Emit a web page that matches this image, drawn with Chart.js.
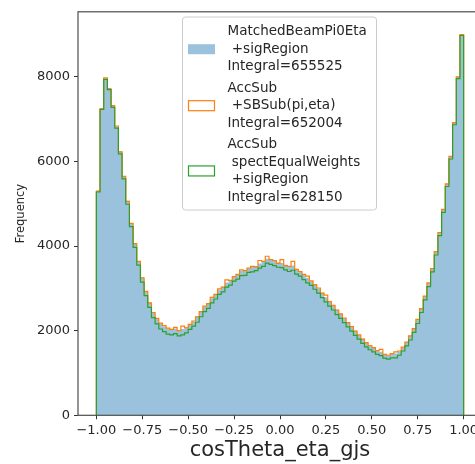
<!DOCTYPE html>
<html>
<head>
<meta charset="utf-8">
<script src="https://cdn.jsdelivr.net/npm/chart.js@4.4.0/dist/chart.umd.min.js"></script>
<style>
  html, body { margin: 0; padding: 0; background: #fff; overflow: hidden; }
  #wrap { position: relative; width: 484px; height: 464px; }
</style>
</head>
<body>
<div id="wrap"><canvas id="grafico"></canvas></div>
<script>
// histogram: 100 bins from -1 to 1
const binStart = -1.0;
const binWidth = 0.02;

const matchedCounts = [
  5310, 7260, 7960, 7740, 7330, 6830, 6250, 5640, 5070, 4530,
  4070, 3630, 3260, 2920, 2670, 2420, 2280, 2170, 2100, 2050,
  2020, 2050, 2010, 2040, 2080, 2140, 2220, 2340, 2440, 2570,
  2650, 2770, 2870, 2970, 3040, 3140, 3200, 3270, 3340, 3420,
  3430, 3470, 3510, 3530, 3590, 3650, 3700, 3690, 3670, 3610,
  3600, 3560, 3530, 3540, 3460, 3410, 3320, 3250, 3170, 3100,
  3000, 2900, 2790, 2700, 2600, 2500, 2400, 2300, 2200, 2100,
  2000, 1900, 1810, 1720, 1650, 1600, 1540, 1500, 1450, 1420,
  1450, 1460, 1510, 1600, 1730, 1880, 2060, 2270, 2520, 2820,
  3130, 3480, 3870, 4330, 4870, 5470, 6120, 6930, 8010, 9010
];

const sbSubCounts = [
  5300, 7250, 7980, 7720, 7320, 6840, 6230, 5650, 5060, 4540,
  4060, 3640, 3250, 2930, 2660, 2430, 2290, 2180, 2120, 2060,
  2030, 2080, 2000, 2110, 2070, 2150, 2230, 2330, 2450, 2580,
  2640, 2790, 2860, 2990, 3030, 3200, 3190, 3280, 3330, 3440,
  3420, 3480, 3520, 3510, 3660, 3640, 3760, 3680, 3660, 3590,
  3680, 3540, 3520, 3640, 3450, 3400, 3330, 3290, 3180, 3090,
  3010, 2890, 2840, 2690, 2600, 2490, 2400, 2300, 2190, 2100,
  1990, 1900, 1800, 1720, 1650, 1600, 1530, 1560, 1440, 1420,
  1460, 1500, 1520, 1610, 1730, 1880, 2050, 2270, 2520, 2820,
  3130, 3470, 3870, 4320, 4870, 5470, 6120, 6920, 8000, 9000
];

const equalWeightCounts = [
  5280, 7230, 7940, 7700, 7280, 6790, 6180, 5590, 4990, 4460,
  3970, 3550, 3150, 2830, 2550, 2310, 2160, 2040, 1980, 1920,
  1900, 1930, 1880, 1900, 1950, 2030, 2110, 2200, 2330, 2450,
  2530, 2660, 2750, 2860, 2920, 3030, 3080, 3170, 3220, 3300,
  3310, 3380, 3390, 3420, 3480, 3520, 3600, 3570, 3540, 3500,
  3490, 3440, 3400, 3430, 3340, 3290, 3210, 3130, 3070, 2980,
  2890, 2780, 2680, 2580, 2490, 2380, 2290, 2190, 2090, 1990,
  1890, 1800, 1700, 1620, 1550, 1500, 1440, 1410, 1350, 1330,
  1360, 1360, 1420, 1520, 1640, 1780, 1960, 2170, 2430, 2730,
  3040, 3390, 3790, 4250, 4800, 5410, 6060, 6870, 7960, 8980
];

const legendLabels = [
  ['MatchedBeamPi0Eta', ' +sigRegion', 'Integral=655525'],
  ['AccSub', ' +SBSub(pi,eta)', 'Integral=652004'],
  ['AccSub', ' spectEqualWeights', ' +sigRegion', 'Integral=628150']
];

const xTicks = [-1.0, -0.75, -0.5, -0.25, 0.0, 0.25, 0.5, 0.75, 1.0];
const yTicks = [0, 2000, 4000, 6000, 8000];

const corAzul = 'rgba(31, 119, 180, 0.45)';
const corLaranja = '#ff7f0e';
const corVerde = '#2ca02c';

// bin edges -> step outline points
function pontosDegrau(counts) {
  const pts = [{ x: binStart, y: 0 }];
  counts.forEach((c, i) => pts.push({ x: binStart + i * binWidth, y: c }));
  const fim = binStart + counts.length * binWidth;
  pts.push({ x: fim, y: counts[counts.length - 1] });
  pts.push({ x: fim, y: 0 });
  return pts;
}

Chart.defaults.font.family = "'DejaVu Sans', sans-serif";

const spines = {
  id: 'spines',
  afterDatasetsDraw(chart) {
    const { ctx, chartArea: a } = chart;
    ctx.save();
    ctx.strokeStyle = '#4d4d4d';
    ctx.lineWidth = 1.2;
    ctx.strokeRect(a.left, a.top, a.right - a.left, a.bottom - a.top);
    ctx.restore();
  }
};

const legenda = {
  id: 'legenda',
  afterDraw(chart) {
    const ctx = chart.ctx;
    const caixa = { x: 182.5, y: 17, w: 194, h: 193 };
    ctx.save();
    ctx.beginPath();
    ctx.roundRect(caixa.x, caixa.y, caixa.w, caixa.h, 3);
    ctx.fillStyle = 'rgba(255,255,255,0.85)';
    ctx.fill();
    ctx.strokeStyle = '#cccccc';
    ctx.lineWidth = 1;
    ctx.stroke();

    const linha = 17.5;
    const espaco = 4;
    const estilos = [
      { fill: corAzul, stroke: null },
      { fill: null, stroke: corLaranja },
      { fill: null, stroke: corVerde }
    ];
    ctx.font = "13.5px 'DejaVu Sans'";
    ctx.textBaseline = 'middle';
    ctx.textAlign = 'left';
    let y = 31.7;
    legendLabels.forEach((linhas, k) => {
      const meio = y + (linhas.length - 1) * linha / 2;
      const e = estilos[k];
      if (e.fill) {
        ctx.fillStyle = e.fill;
        ctx.fillRect(188, meio - 5, 27, 10);
      } else {
        ctx.strokeStyle = e.stroke;
        ctx.lineWidth = 1.2;
        ctx.strokeRect(188.5, meio - 5, 26, 10);
      }
      ctx.fillStyle = '#262626';
      linhas.forEach((t, j) => ctx.fillText(t, 227.5, y + j * linha));
      y += linhas.length * linha + espaco;
    });
    ctx.restore();
  }
};

const contexto = document.getElementById('grafico').getContext('2d');

const grafico = new Chart(contexto, {
  type: 'line',
  data: {
    datasets: [
      {
        label: legendLabels[0].join(''),
        data: pontosDegrau(matchedCounts),
        stepped: 'before',
        borderWidth: 0,
        borderColor: 'rgba(0,0,0,0)',
        backgroundColor: corAzul,
        fill: 'origin',
        pointRadius: 0,
        order: 2
      },
      {
        label: legendLabels[1].join(''),
        data: pontosDegrau(sbSubCounts),
        stepped: 'before',
        borderWidth: 1.2,
        borderColor: corLaranja,
        fill: false,
        pointRadius: 0,
        order: 1
      },
      {
        label: legendLabels[2].join(''),
        data: pontosDegrau(equalWeightCounts),
        stepped: 'before',
        borderWidth: 1.2,
        borderColor: corVerde,
        fill: false,
        pointRadius: 0,
        order: 0
      }
    ]
  },
  options: {
    responsive: true,
    maintainAspectRatio: false,
    animation: false,
    layout: { padding: { left: 0, top: 10, right: 2, bottom: 0 } },
    plugins: {
      legend: { display: false },
      tooltip: { enabled: false }
    },
    scales: {
      x: {
        type: 'linear',
        min: -1.1,
        max: 1.1,
        afterBuildTicks: s => { s.ticks = xTicks.map(v => ({ value: v })); },
        afterFit: s => { s.height = 48.7; },
        ticks: {
          callback: v => v.toFixed(2).replace('-', '\u2212'),
          font: { size: 13 },
          color: '#262626',
          padding: 4,
          maxRotation: 0,
          autoSkip: false
        },
        grid: { drawOnChartArea: false, tickLength: 4, color: '#333', lineWidth: 1 },
        border: { display: false },
        title: {
          display: true,
          text: 'cosTheta_eta_gjs',
          font: { size: 21, lineHeight: 1 },
          color: '#262626',
          padding: { top: 0, bottom: 3 }
        }
      },
      y: {
        min: 0,
        max: 9540,
        afterBuildTicks: s => { s.ticks = yTicks.map(v => ({ value: v })); },
        afterFit: s => { s.width = 78; },
        ticks: {
          callback: v => String(v),
          font: { size: 13 },
          color: '#262626',
          padding: 4
        },
        grid: { drawOnChartArea: false, tickLength: 4, color: '#333', lineWidth: 1 },
        border: { display: false },
        title: {
          display: true,
          text: 'Frequency',
          font: { size: 11.5, lineHeight: 1 },
          color: '#262626',
          padding: { top: 15, bottom: 0 }
        }
      }
    }
  },
  plugins: [spines, legenda]
});
</script>
</body>
</html>
